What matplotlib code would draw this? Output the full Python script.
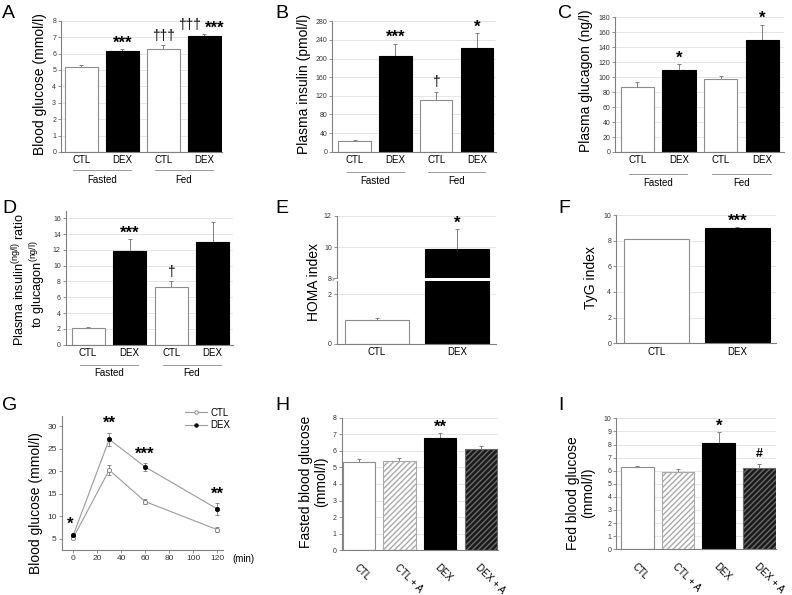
import matplotlib
matplotlib.use('Agg')
import matplotlib.pyplot as plt
from matplotlib.lines import Line2D
from matplotlib.transforms import blended_transform_factory as btf

plt.rcParams['font.family'] = ['Liberation Sans', 'DejaVu Sans']
plt.rcParams['mathtext.fontset'] = 'custom'
plt.rcParams['mathtext.rm'] = 'Liberation Sans'

W, H = 792, 595
fig = plt.figure(figsize=(W / 100, H / 100), dpi=100)

SPINE = '#808080'
GRID = '#e0e0e0'
ERR = '#808080'

# ---------------- data ----------------
cats4 = ['CTL', 'DEX', 'CTL', 'DEX']
meal_groups = ['Fasted', 'Fed']

glucose_mean = [5.2, 6.15, 6.3, 7.05]
glucose_err = [0.1, 0.12, 0.2, 0.12]
glucose_sig = ['', '***', '†††', '††† ***']

insulin_mean = [23, 205, 110, 222]
insulin_err = [3, 27, 18, 33]
insulin_sig = ['', '***', '†', '*']

glucagon_mean = [87, 110, 97, 149]
glucagon_err = [7, 7, 4, 21]
glucagon_sig = ['', '*', '', '*']

ratio_mean = [2.05, 11.9, 7.35, 12.95]
ratio_err = [0.25, 1.45, 0.65, 2.55]
ratio_sig = ['', '***', '†', '']

cats2 = ['CTL', 'DEX']
homa_mean = [0.96, 9.9]
homa_err = [0.09, 1.26]
homa_sig = ['', '*']

tyg_mean = [8.1, 9.0]
tyg_err = [0.05, 0.06]
tyg_sig = ['', '***']

gtt_time = [0, 30, 60, 120]
gtt_ctl = [5.3, 20.3, 13.3, 7.1]
gtt_ctl_err = [0.3, 1.2, 0.5, 0.5]
gtt_dex = [5.9, 27.1, 21.0, 11.7]
gtt_dex_err = [0.3, 1.5, 0.9, 1.3]
gtt_sig = ['*', '**', '***', '**']

cats_a = ['CTL', 'CTL + A', 'DEX', 'DEX + A']
fasted_mean = [5.35, 5.4, 6.75, 6.1]
fasted_err = [0.15, 0.17, 0.33, 0.2]
fasted_sig = ['', '', '**', '']

fed_mean = [6.3, 5.9, 8.15, 6.2]
fed_err = [0.07, 0.22, 0.8, 0.3]
fed_sig = ['', '', '*', '#']

# ---------------- helpers ----------------
def add_ax(x0, y0, x1, y1):
    return fig.add_axes([x0 / W, 1 - y1 / H, (x1 - x0) / W, (y1 - y0) / H])


def style_ax(ax, yticks, ylim, xlim, grid=True):
    ax.set_ylim(*ylim)
    ax.set_xlim(*xlim)
    ax.set_yticks(yticks)
    ax.set_yticklabels([f'{t:g}' for t in yticks], fontsize=5, color='#333333')
    for s in ['top', 'right']:
        ax.spines[s].set_visible(False)
    for s in ['left', 'bottom']:
        ax.spines[s].set_color(SPINE)
        ax.spines[s].set_linewidth(0.8)
    ax.tick_params(axis='y', length=2, width=0.6, color=SPINE, pad=1.5)
    if grid:
        for t in yticks:
            if t != 0:
                ax.axhline(t, color=GRID, lw=0.6, zorder=0)


STYLES = {
    'CTL': dict(color='white', edgecolor='#8c8c8c', hatch=None),
    'DEX': dict(color='black', edgecolor='black', hatch=None),
    'CTL + A': dict(color='white', edgecolor='#aaaaaa', hatch='//////'),
    'DEX + A': dict(color='#1a1a1a', edgecolor='#6a6a6a', hatch='//////'),
}


def bars(ax, cats, mean, err, sig, width=0.8, star_fs=12):
    xs = list(range(len(cats)))
    for x, c, m, e in zip(xs, cats, mean, err):
        st = STYLES[c]
        b = ax.bar(x, m, width=width, color=st['color'], edgecolor=st['edgecolor'],
                   linewidth=0.8, zorder=2)
        if st['hatch']:
            b[0].set_hatch(st['hatch'])
        ax.errorbar(x, m, yerr=[[0], [e]], fmt='none', ecolor=ERR, elinewidth=0.7,
                    capsize=1.5, capthick=0.7, zorder=1)
    for x, m, e, s in zip(xs, mean, err, sig):
        top = m + e
        if not s:
            continue
        if '†' in s and '*' in s:
            d, st_ = s.split(' ')
            ax.annotate(d, (x, top), xytext=(-2.5, 2), textcoords='offset points',
                        ha='right', va='bottom', fontsize=10, annotation_clip=False)
            ax.annotate(st_, (x, top), xytext=(0.5, -1), textcoords='offset points',
                        ha='left', va='bottom', fontsize=star_fs, fontweight='bold',
                        annotation_clip=False)
        elif '†' in s:
            ax.annotate(s, (x, top), xytext=(0, 2), textcoords='offset points',
                        ha='center', va='bottom', fontsize=10, annotation_clip=False)
        elif '#' in s:
            ax.annotate(s, (x, top), xytext=(0, 3), textcoords='offset points',
                        ha='center', va='bottom', fontsize=9, fontweight='bold',
                        annotation_clip=False)
        else:
            ax.annotate(s, (x, top), xytext=(0, -1), textcoords='offset points',
                        ha='center', va='bottom', fontsize=star_fs, fontweight='bold',
                        annotation_clip=False)
    return xs


def cat_labels(ax, cats, pad=2.5, rot=False):
    ax.set_xticks(range(len(cats)))
    if rot:
        ax.set_xticklabels(cats, fontsize=7, rotation=-45, ha='left',
                           rotation_mode='anchor')
        ax.tick_params(axis='x', length=0, pad=pad)
    else:
        ax.set_xticklabels(cats, fontsize=7)
        ax.tick_params(axis='x', length=0, pad=pad)


def group_labels(ax, axis_px_h, line_px, text_px, half=0.7):
    tr = btf(ax.transData, ax.transAxes)
    for gi, g in enumerate(meal_groups):
        cx = 2 * gi + 0.5
        yl = -line_px / axis_px_h
        yt = -text_px / axis_px_h
        ax.plot([cx - half, cx + half], [yl, yl], transform=tr, color='#9a9a9a',
                lw=0.7, clip_on=False)
        ax.text(cx, yt, g, transform=tr, ha='center', va='center', fontsize=7)


def ylabel(ax, text, x_px, y_px, fs=10):
    fig.text(x_px / W, 1 - y_px / H, text, rotation=90, ha='center', va='center',
             fontsize=fs)


def letter(t, x_px, y_px):
    fig.text(x_px / W, 1 - y_px / H, t, ha='left', va='top', fontsize=14)

# ---------------- A ----------------
axA = add_ax(61, 20.7, 222, 152)
style_ax(axA, range(0, 9), (0, 8), (-0.5, 3.43))
bars(axA, cats4, glucose_mean, glucose_err, glucose_sig)
cat_labels(axA, cats4)
group_labels(axA, 131.3, 18, 28)
ylabel(axA, 'Blood glucose (mmol/l)', 40, 84)
letter('A', 2, 5)

# ---------------- B ----------------
axB = add_ax(332.3, 21.3, 496, 151.7)
style_ax(axB, range(0, 281, 40), (0, 280), (-0.55, 3.47))
bars(axB, cats4, insulin_mean, insulin_err, insulin_sig)
cat_labels(axB, cats4)
group_labels(axB, 130.4, 20, 29)
ylabel(axB, 'Plasma insulin (pmol/l)', 304, 84)
letter('B', 275, 5)

# ---------------- C ----------------
axC = add_ax(615.3, 17.3, 784, 152)
style_ax(axC, range(0, 181, 20), (0, 180), (-0.53, 3.52))
bars(axC, cats4, glucagon_mean, glucagon_err, glucagon_sig)
cat_labels(axC, cats4)
group_labels(axC, 134.7, 22, 31)
ylabel(axC, 'Plasma glucagon (ng/l)', 586, 81)
letter('C', 558, 5)

# ---------------- D ----------------
axD = add_ax(65.7, 210.7, 233, 344.7)
style_ax(axD, range(0, 17, 2), (0, 16.95), (-0.54, 3.49))
bars(axD, cats4, ratio_mean, ratio_err, ratio_sig)
cat_labels(axD, cats4)
group_labels(axD, 134, 20, 28)
ylabel(axD, r'Plasma insulin$^{\mathregular{(ng/l)}}$ ratio', 19, 280, fs=9.2)
ylabel(axD, r'to glucagon$^{\mathregular{(ng/l)}}$', 38, 284, fs=9.2)
letter('D', 2, 200)

# ---------------- E (broken axis) ----------------
axE_lo = add_ax(336.7, 281, 496, 344)
axE_hi = add_ax(336.7, 216, 496, 278.3)
style_ax(axE_lo, [0, 2], (0, 2.52), (-0.5, 1.49))
style_ax(axE_hi, [8, 10, 12], (8, 12), (-0.5, 1.49))
bars(axE_lo, cats2, homa_mean, homa_err, ['', ''])
bars(axE_hi, cats2, homa_mean, homa_err, homa_sig)
cat_labels(axE_lo, cats2)
axE_hi.set_xticks([])
axE_hi.spines['bottom'].set_visible(False)
fig.text(334 / W, 1 - 279.5 / H, '≈', rotation=60, ha='center', va='center',
         fontsize=5, color='#555555')
ylabel(axE_lo, 'HOMA index', 314, 282)
letter('E', 275, 200)

# ---------------- F ----------------
axF = add_ax(616, 215, 776, 343.3)
style_ax(axF, range(0, 11, 2), (0, 10), (-0.5, 1.48))
bars(axF, cats2, tyg_mean, tyg_err, tyg_sig)
cat_labels(axF, cats2)
ylabel(axF, 'TyG index', 591, 278)
letter('F', 558, 200)

# ---------------- G ----------------
axG = add_ax(61.7, 415.7, 223.3, 550)
axG.set_xlim(-9.7, 125.3)
axG.set_ylim(2.56, 32.35)
for s in ['top', 'right']:
    axG.spines[s].set_visible(False)
for s in ['left', 'bottom']:
    axG.spines[s].set_color(SPINE)
    axG.spines[s].set_linewidth(0.8)
axG.set_xticks(range(0, 121, 20))
axG.set_xticklabels([str(t) for t in range(0, 121, 20)], fontsize=6, color='#333333')
axG.set_yticks(range(5, 31, 5))
axG.set_yticklabels([str(t) for t in range(5, 31, 5)], fontsize=6, color='#333333')
axG.tick_params(length=2, width=0.6, color=SPINE, pad=1.5)
axG.errorbar(gtt_time, gtt_ctl, yerr=gtt_ctl_err, fmt='o-', color='#9a9a9a', lw=0.8,
             mfc='white', mec='#777777', ms=3, mew=0.6, ecolor='#777777',
             elinewidth=0.6, capsize=1.5, capthick=0.6)
axG.errorbar(gtt_time, gtt_dex, yerr=gtt_dex_err, fmt='o-', color='#9a9a9a', lw=0.8,
             mfc='black', mec='black', ms=3, mew=0.6, ecolor='#777777',
             elinewidth=0.6, capsize=1.5, capthick=0.6)
for t, m, e, s in zip(gtt_time, gtt_dex, gtt_dex_err, gtt_sig):
    xoff = -2 if t == 0 else 0
    axG.annotate(s, (t, m + e), xytext=(xoff, 1), textcoords='offset points',
                 ha='center', va='bottom', fontsize=12, fontweight='bold',
                 annotation_clip=False)
handles = [
    Line2D([], [], color='#9a9a9a', lw=0.8, marker='o', ms=2.5, mfc='white',
           mec='#777777', mew=0.6),
    Line2D([], [], color='#9a9a9a', lw=0.8, marker='o', ms=2.5, mfc='black',
           mec='black', mew=0.6),
]
axG.legend(handles, ['CTL', 'DEX'], loc='upper left',
           bbox_to_anchor=((180 - 61.7) / 161.6, 1 + (415.7 - 403) / 134.3),
           frameon=False, fontsize=7, handlelength=2.3, handletextpad=0.3,
           labelspacing=0.25, borderpad=0)
axG.text(243 / W, 1 - 559 / H, '(min)', transform=fig.transFigure, ha='center',
         va='center', fontsize=7)
ylabel(axG, 'Blood glucose (mmol/l)', 36, 503)
letter('G', 2, 397)

# ---------------- H ----------------
axH = add_ax(341.7, 417.7, 498, 550.3)
style_ax(axH, range(0, 9), (0, 8), (-0.42, 3.42))
bars(axH, cats_a, fasted_mean, fasted_err, fasted_sig)
cat_labels(axH, cats_a, pad=9, rot=True)
ylabel(axH, 'Fasted blood glucose', 305.7, 482)
ylabel(axH, '(mmol/l)', 320.7, 482)
letter('H', 275, 397)

# ---------------- I ----------------
axI = add_ax(616.3, 418.3, 776, 549.3)
style_ax(axI, range(0, 11), (0, 10), (-0.52, 3.41))
bars(axI, cats_a, fed_mean, fed_err, fed_sig)
cat_labels(axI, cats_a, pad=9, rot=True)
ylabel(axI, 'Fed blood glucose', 573, 493)
ylabel(axI, '(mmol/l)', 588, 493)
letter('I', 558, 397)

fig.savefig('out.png', dpi=100)
